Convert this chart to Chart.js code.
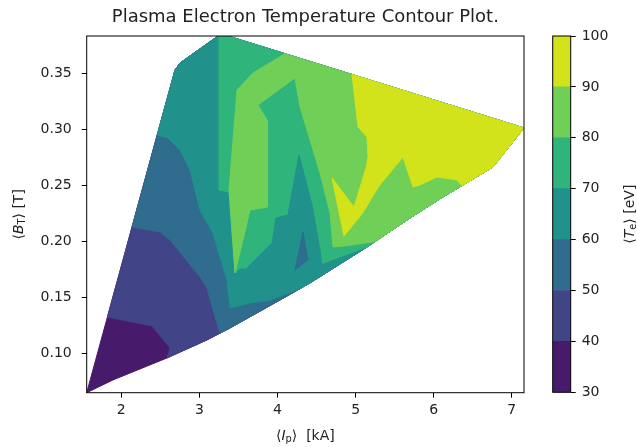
<!DOCTYPE html>
<html>
<head>
<meta charset="utf-8">
<script src="https://cdn.jsdelivr.net/npm/chart.js@4.4.0/dist/chart.umd.min.js"></script>
<style>
  body { margin: 0; background: #fff; }
  #wrap { position: relative; width: 637px; height: 447px; }
  canvas { position: absolute; top: 0; }
</style>
</head>
<body>
<div id="wrap">
  <canvas id="contour" width="637" height="447" style="left:0"></canvas>
  <canvas id="colorbar" width="97" height="447" style="left:540px"></canvas>
</div>
<script>
// axis extents (data limits of the triangulation)
const xRange = [1.557, 7.156];   // <I_p> [kA]
const yRange = [0.0648, 0.3833]; // <B_T> [T]
const xTicks = [2, 3, 4, 5, 6, 7];
const yTicks = [0.10, 0.15, 0.20, 0.25, 0.30, 0.35];
const levels = [30, 40, 50, 60, 70, 80, 90, 100];
const levelColors = ['#481a6c', '#414487', '#2f6c8e', '#21918c', '#2fb47c', '#70cf57', '#d2e21b'];

// outline of the triangulated data (clockwise from bottom-left)
const hull = [
  [1.557, 0.0648], [2.688, 0.3530], [2.752, 0.3592], [3.238, 0.3833],
  [3.366, 0.3833], [7.156, 0.3012], [6.759, 0.2663], [6.119, 0.2396],
  [5.697, 0.2208], [5.146, 0.1949], [4.416, 0.1628], [4.032, 0.1476],
  [3.392, 0.1226], [3.097, 0.1119], [2.585, 0.0958], [1.894, 0.0762]
];

// regions where Te is above each level
const above40 = [[1.822, 0.1324], ...hull.slice(1, 15), [2.624, 0.1047], [2.393, 0.1244]];

const above50 = [[2.138, 0.2128], ...hull.slice(1, 13), [3.264, 0.1180], [3.200, 0.1324],
  [3.097, 0.1583], [3.008, 0.1681], [2.624, 0.2012], [2.496, 0.2083]];

const above60 = [[2.460, 0.2949], ...hull.slice(1, 11), [4.288, 0.1577], [3.904, 0.1476],
  [3.648, 0.1449], [3.392, 0.1404], [3.353, 0.1654], [3.174, 0.2074], [3.008, 0.2279],
  [2.880, 0.2637], [2.752, 0.2815], [2.598, 0.2922]];

const above70 = [[3.251, 0.3833], ...hull.slice(4, 10), [4.800, 0.1860], [4.352, 0.1744],
  [3.520, 0.1762], [3.456, 0.1717], [3.379, 0.2440], [3.251, 0.2458]];

// 60-70 tongue reaching up into the 70-80 area
const tongue60 = [[4.275, 0.2771], [4.442, 0.2324], [4.544, 0.1922], [4.570, 0.1788],
  [4.352, 0.1726], [3.584, 0.1744], [3.930, 0.1985], [3.981, 0.2208], [4.134, 0.2235]];

// small 50-60 pocket
const pocket50 = [[4.327, 0.2083], [4.224, 0.1744], [4.391, 0.1833]];

const above80 = [[3.456, 0.1717], [3.379, 0.2458], [3.430, 0.2904], [3.481, 0.3351],
  [3.686, 0.3503], [4.096, 0.3675], ...hull.slice(5, 9), [5.248, 0.1997], [4.864, 0.1958],
  [4.711, 0.1949], [4.672, 0.2253], [4.544, 0.2610], [4.416, 0.2904], [4.288, 0.3199],
  [4.224, 0.3458], [3.750, 0.3217], [3.866, 0.3083], [3.878, 0.2994], [3.866, 0.2306],
  [3.648, 0.2279], [3.558, 0.2012]];

const above90 = [[4.954, 0.3489], ...hull.slice(5, 7), [6.362, 0.2497], [6.298, 0.2547],
  [6.042, 0.2574], [5.825, 0.2503], [5.735, 0.2485], [5.607, 0.2753], [5.300, 0.2494],
  [5.082, 0.2244], [4.851, 0.2047], [4.698, 0.2565], [4.980, 0.2306], [5.133, 0.2654],
  [5.159, 0.2753], [5.146, 0.2931], [5.031, 0.3021]];

// painted bottom to top: [lower level of the band, polygon]
const layers = [
  [30, hull], [40, above40], [50, above50], [60, above60], [70, above70],
  [60, tongue60], [50, pocket50], [80, above80], [90, above90]
];

const FONT = 'DejaVu Sans';
const colorOf = lvl => levelColors[levels.indexOf(lvl)];

function drawRich(ctx, parts, x, y, angle) {
  const size = 14;
  const fontOf = p => (p.italic ? 'italic ' : '') + (p.sub ? size * 0.7 : size) + 'px "' + FONT + '"';
  let w = 0;
  for (const p of parts) { ctx.font = fontOf(p); w += ctx.measureText(p.t).width; }
  ctx.save();
  ctx.translate(x, y);
  ctx.rotate(angle);
  ctx.textBaseline = 'middle';
  ctx.fillStyle = '#222';
  let cx = -w / 2;
  for (const p of parts) {
    ctx.font = fontOf(p);
    ctx.fillText(p.t, cx, p.sub ? size * 0.28 : 0);
    cx += ctx.measureText(p.t).width;
  }
  ctx.restore();
}

const framePlugin = {
  id: 'frame',
  afterDraw(chart) {
    const { ctx, chartArea: a } = chart;
    ctx.save();
    ctx.strokeStyle = '#000';
    ctx.lineWidth = 1;
    ctx.strokeRect(a.left, a.top, a.right - a.left, a.bottom - a.top);
    ctx.restore();
  }
};

const axisLabels = {
  id: 'axisLabels',
  afterDraw(chart) {
    const ctx = chart.ctx, a = chart.chartArea;
    drawRich(ctx, [{ t: '\u27E8' }, { t: 'I', italic: true }, { t: 'p', sub: true }, { t: '\u27E9  [kA]' }],
      (a.left + a.right) / 2, 436, 0);
    drawRich(ctx, [{ t: '\u27E8' }, { t: 'B', italic: true }, { t: 'T', sub: true }, { t: '\u27E9 [T]' }],
      19, (a.top + a.bottom) / 2, -Math.PI / 2);
  }
};

const tickStyle = { color: '#222', font: { family: FONT, size: 14 }, autoSkip: false, maxRotation: 0 };
const gridStyle = { drawOnChartArea: false, drawTicks: true, tickLength: 5, color: '#000' };

new Chart(document.getElementById('contour'), {
  type: 'scatter',
  data: {
    datasets: layers.map(([lvl, poly], i) => ({
      data: poly.concat([poly[0]]).map(p => ({ x: p[0], y: p[1] })),
      showLine: true,
      fill: 'shape',
      backgroundColor: colorOf(lvl),
      borderColor: colorOf(lvl),
      borderWidth: 1,
      pointRadius: 0,
      tension: 0,
      order: layers.length - i
    }))
  },
  options: {
    responsive: false,
    animation: false,
    events: [],
    layout: { padding: { left: 0, right: 113, top: 0, bottom: 0 } },
    plugins: {
      legend: { display: false },
      tooltip: { enabled: false },
      title: {
        display: true,
        text: 'Plasma Electron Temperature Contour Plot.',
        color: '#222',
        font: { family: FONT, size: 18, weight: 'normal' },
        padding: { top: 7, bottom: 7.4 },
        fullSize: false
      }
    },
    scales: {
      x: {
        type: 'linear', min: xRange[0], max: xRange[1],
        afterBuildTicks: s => { s.ticks = xTicks.map(v => ({ value: v })); },
        afterFit: s => { s.height = 447 - 392.7; },
        grid: gridStyle,
        border: { display: false },
        ticks: { ...tickStyle, padding: 4, callback: v => String(v) }
      },
      y: {
        type: 'linear', min: yRange[0], max: yRange[1],
        afterBuildTicks: s => { s.ticks = yTicks.map(v => ({ value: v })); },
        afterFit: s => { s.width = 86.7; },
        grid: gridStyle,
        border: { display: false },
        ticks: { ...tickStyle, padding: 10, callback: v => v.toFixed(2) }
      }
    }
  },
  plugins: [framePlugin, axisLabels]
});

const cbLabel = {
  id: 'cbLabel',
  afterDraw(chart) {
    const a = chart.chartArea;
    drawRich(chart.ctx, [{ t: '\u27E8' }, { t: 'T', italic: true }, { t: 'e', sub: true }, { t: '\u27E9 [eV]' }],
      90, (a.top + a.bottom) / 2, -Math.PI / 2);
  }
};

new Chart(document.getElementById('colorbar'), {
  type: 'bar',
  data: {
    labels: [''],
    datasets: levelColors.map((c, i) => ({
      data: [[levels[i], levels[i + 1]]],
      backgroundColor: c,
      borderWidth: 0,
      barPercentage: 1,
      categoryPercentage: 1
    }))
  },
  options: {
    responsive: false,
    animation: false,
    events: [],
    layout: { padding: { left: 12.7, right: 0, top: 36, bottom: 447 - 392.3 } },
    plugins: { legend: { display: false }, tooltip: { enabled: false } },
    scales: {
      x: { display: false, stacked: true },
      y: {
        position: 'right', min: levels[0], max: levels[levels.length - 1], stacked: false,
        afterBuildTicks: s => { s.ticks = levels.map(v => ({ value: v })); },
        afterFit: s => { s.width = 97 - 30.7; },
        grid: gridStyle,
        border: { display: false },
        ticks: { ...tickStyle, padding: 6, callback: v => String(v) }
      }
    }
  },
  plugins: [framePlugin, cbLabel]
});
</script>
</body>
</html>
